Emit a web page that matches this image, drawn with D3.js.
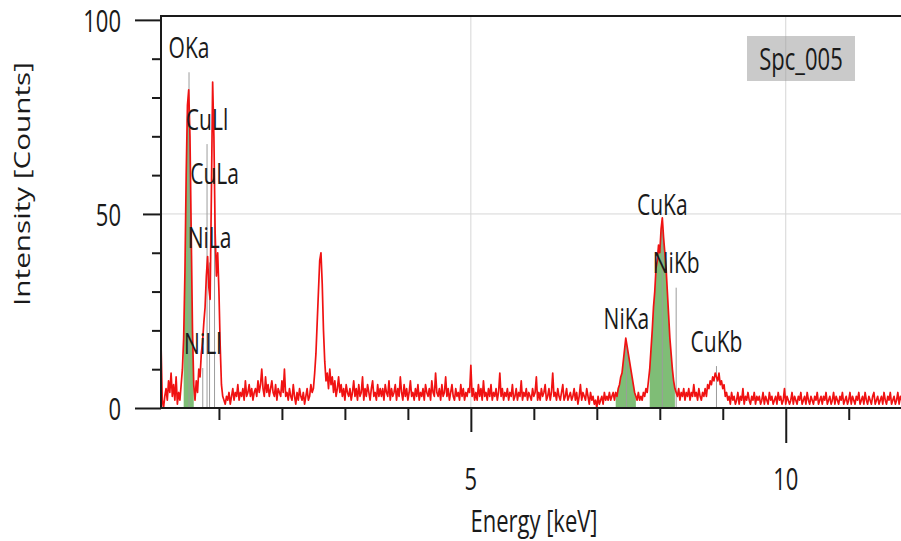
<!DOCTYPE html>
<html>
<head>
<meta charset="utf-8">
<title>Spc_005 spectrum</title>
<style>
  body { margin: 0; background: #fff; }
  text { font-family: "Open Sans", sans-serif; fill: #1a1a1a; }
</style>
</head>
<body>
<svg id="chart" width="901" height="541"></svg>
<script src="https://d3js.org/d3.v7.min.js"></script>
<script>
// spectrum name and channel calibration (keV)
const spectrumName = "Spc_005"
const channelStart = 0.08
const channelWidth = 0.02

// counts per channel, one row = 25 channels (0.5 keV)
const counts = [
  17,2,0,3,5, 2,7,4,9,3, 6,2,8,1,4, 2,6,10,18,35, 60,78,82,70,45,
  20,6,2,7,4, 10,8,14,17,22, 26,34,39,31,28, 55,84,70,45,34, 40,30,16,6,3,
  2,1,3,2,4, 1,3,5,2,4, 3,6,2,4,3, 5,2,7,3,4, 6,3,5,2,4,
  5,3,7,4,6, 10,5,3,8,4, 6,3,5,7,4, 3,6,2,5,4, 3,7,4,10,3,
  4,2,5,3,2, 6,3,1,4,2, 5,3,2,4,1, 3,5,2,3,6, 4,5,9,14,22,
  30,38,40,32,20, 12,7,9,5,10, 6,8,4,7,3, 5,8,4,6,3, 5,2,6,4,3,
  5,2,4,7,3, 5,2,6,3,4, 8,2,5,3,6, 4,2,5,7,3, 4,2,6,3,5,
  3,5,2,6,4, 3,7,2,5,3, 4,6,2,5,3, 8,4,2,6,3, 5,2,4,7,3,
  4,2,5,3,6, 2,4,3,5,2, 6,4,3,5,2, 7,4,3,9,4, 3,5,2,6,3,
  4,8,3,5,2, 4,6,3,2,5, 3,4,2,6,3, 5,2,4,3,5, 4,11,3,5,2,
  4,2,6,3,5, 2,7,3,4,2, 5,3,6,2,4, 3,5,2,4,9, 3,5,2,4,3,
  5,2,4,3,6, 2,3,5,2,4, 3,7,2,4,3, 5,2,4,3,2, 5,3,4,8,2,
  4,2,5,3,4, 6,2,3,5,2, 4,9,3,4,2, 5,3,2,4,6, 2,3,5,2,3,
  4,2,3,5,2, 4,1,3,6,2, 4,3,2,5,3, 1,4,2,3,1, 2,0,3,1,2,
  3,1,4,2,3, 2,4,2,3,4, 2,4,3,5,6, 8,9,12,15,18, 16,14,12,10,8,
  6,4,3,2,4, 2,3,2,4,3, 5,4,7,10,15, 20,26,30,36,38, 42,40,46,49,44,
  40,36,30,24,18, 14,10,7,5,4, 3,5,2,4,3, 5,2,4,3,5, 2,4,3,6,3,
  4,2,5,3,2, 4,3,5,3,6, 5,7,6,8,7, 9,8,7,9,6, 7,5,6,3,4,
  2,3,1,4,2, 3,1,2,4,1, 3,2,5,1,3, 2,4,2,1,3, 2,4,1,3,2,
  3,1,2,4,1, 3,2,1,4,2, 3,1,2,3,1, 4,2,3,1,2, 5,1,3,2,1,
  2,4,1,3,2, 1,3,2,4,1, 2,3,1,4,2, 1,3,2,1,3, 2,4,1,2,3,
  1,3,2,4,1, 2,3,1,2,4, 1,3,2,1,3, 2,4,1,2,3, 1,2,4,1,3,
  2,1,3,2,4, 1,2,3,1,4, 2,1,3,2,1, 3,4,1,2,3, 1,2,3,1,4,
  2,1,3,2,4, 1,2,3,1,2, 4,1,3,2
]

// identified lines: name, energy (keV), marker height (counts)
const peakNames = ["OKa", "CuLl", "CuLa", "NiLa", "NiLl", "CuKa", "NiKb", "NiKa", "CuKb"]
const peakEnergies = [0.525, 0.811, 0.930, 0.851, 0.743, 8.040, 8.260, 7.470, 8.900]
const peakMarkers = [86.5, 68, 54, 37.5, 10.3, 46, 31, 16.5, 10.8]

// integration windows (keV) shaded green
const roiStart = [0.44, 7.30, 7.84]
const roiEnd = [0.60, 7.62, 8.24]

// ticks
const yTickLabels = [0, 50, 100]
const yMinorTicks = [10, 20, 30, 40, 60, 70, 80, 90]
const xTickLabels = [5, 10]
const xMinorTicks = [1, 2, 3, 4, 6, 7, 8, 9, 11]

const svg = d3.select("#chart")
const plotLeft = 161, plotRight = 901, plotTop = 16, plotBottom = 408

let x = d3.scaleLinear().domain([0.08, 11.83]).range([plotLeft, plotRight])
let y = d3.scaleLinear().domain([0, 101]).range([plotBottom, plotTop])

let data = counts.map((c, i) => ({ e: channelStart + i * channelWidth, c: c }))

// text in the reference is tall and narrow
function label(g, txt, px, py, anchor, size) {
  return g.append("text")
    .attr("transform", `translate(${px},${py}) scale(1,1.4)`)
    .attr("text-anchor", anchor)
    .attr("dominant-baseline", "central")
    .style("font-size", size + "px")
    .text(txt)
}

svg.append("defs").append("clipPath").attr("id", "plot")
  .append("rect").attr("x", plotLeft).attr("y", plotTop)
  .attr("width", plotRight - plotLeft).attr("height", plotBottom - plotTop)

// gridlines
let grid = svg.append("g").attr("stroke", "#d6d6d6").attr("stroke-width", 1)
grid.selectAll(".vg").data(xTickLabels).enter().append("line")
  .attr("x1", d => x(d)).attr("x2", d => x(d))
  .attr("y1", plotTop).attr("y2", plotBottom)
grid.append("line")
  .attr("x1", plotLeft).attr("x2", plotRight)
  .attr("y1", y(50)).attr("y2", y(50))

// spectrum tag
let tag = svg.append("g")
tag.append("rect")
  .attr("x", 747).attr("y", 36).attr("width", 108).attr("height", 45)
  .attr("fill", "#9a9a9a").attr("fill-opacity", 0.52)
label(tag, spectrumName, 801, 58, "middle", 22)

let body = svg.append("g").attr("clip-path", "url(#plot)")

// green windows
let area = d3.area().x(d => x(d.e)).y0(y(0)).y1(d => y(d.c))
roiStart.forEach((s, k) => {
  let part = data.filter(d => d.e >= s - 1e-9 && d.e <= roiEnd[k] + 1e-9)
  body.append("path").attr("d", area(part))
    .attr("fill", "#7fbd76")
})

// line markers
body.selectAll(".mk").data(peakEnergies).enter().append("line")
  .attr("x1", d => x(d)).attr("x2", d => x(d))
  .attr("y1", (d, i) => y(peakMarkers[i])).attr("y2", plotBottom)
  .attr("stroke", "#9c9c9c").attr("stroke-width", 1)

// spectrum
let line = d3.line().x(d => x(d.e)).y(d => y(d.c))
body.append("path").attr("d", line(data))
  .attr("fill", "none")
  .attr("stroke", "#f01212")
  .attr("stroke-width", 1.7)
  .attr("stroke-linejoin", "round")

let peakLabels = svg.append("g")
peakNames.forEach((n, i) => {
  label(peakLabels, n, x(peakEnergies[i]), y(peakMarkers[i]) - 26, "middle", 21)
})

// axes
function tickStyle(g) {
  g.select(".domain").remove()
  g.selectAll(".tick line").attr("stroke", "#1a1a1a").attr("stroke-width", 2)
}
svg.append("g").attr("transform", `translate(${plotLeft},0)`)
  .call(d3.axisLeft(y).tickValues([0, 100]).tickSize(26).tickFormat(""))
  .call(tickStyle)
svg.append("g").attr("transform", `translate(${plotLeft},0)`)
  .call(d3.axisLeft(y).tickValues([50]).tickSize(18).tickFormat(""))
  .call(tickStyle)
svg.append("g").attr("transform", `translate(${plotLeft},0)`)
  .call(d3.axisLeft(y).tickValues(yMinorTicks).tickSize(9).tickFormat(""))
  .call(tickStyle)
svg.append("g").attr("transform", `translate(0,${plotBottom})`)
  .call(d3.axisBottom(x).tickValues(xMinorTicks).tickSize(12).tickFormat(""))
  .call(tickStyle)
svg.append("g").attr("transform", `translate(0,${plotBottom})`)
  .call(d3.axisBottom(x).tickValues([5]).tickSize(24).tickFormat(""))
  .call(tickStyle)
svg.append("g").attr("transform", `translate(0,${plotBottom})`)
  .call(d3.axisBottom(x).tickValues([10]).tickSize(35).tickFormat(""))
  .call(tickStyle)

// frame
let frame = svg.append("g").attr("stroke", "#1a1a1a").attr("stroke-width", 2)
frame.append("line").attr("x1", plotLeft).attr("x2", plotLeft).attr("y1", plotTop - 1).attr("y2", plotBottom + 1)
frame.append("line").attr("x1", plotLeft).attr("x2", plotRight).attr("y1", plotBottom).attr("y2", plotBottom)
frame.append("line").attr("x1", plotLeft).attr("x2", plotRight).attr("y1", plotTop).attr("y2", plotTop)

// tick labels
let tl = svg.append("g")
yTickLabels.forEach(v => label(tl, v, 121, y(v), "end", 22))
xTickLabels.forEach(v => label(tl, v, x(v), 478, "middle", 22))

// axis titles
label(svg, "Energy [keV]", 534, 520, "middle", 22)
svg.append("text")
  .attr("transform", "translate(22,184) rotate(-90) scale(1.35,1)")
  .attr("text-anchor", "middle")
  .attr("dominant-baseline", "central")
  .style("font-size", "22px")
  .attr("fill", "#333")
  .text("Intensity [Counts]")
</script>
</body>
</html>
